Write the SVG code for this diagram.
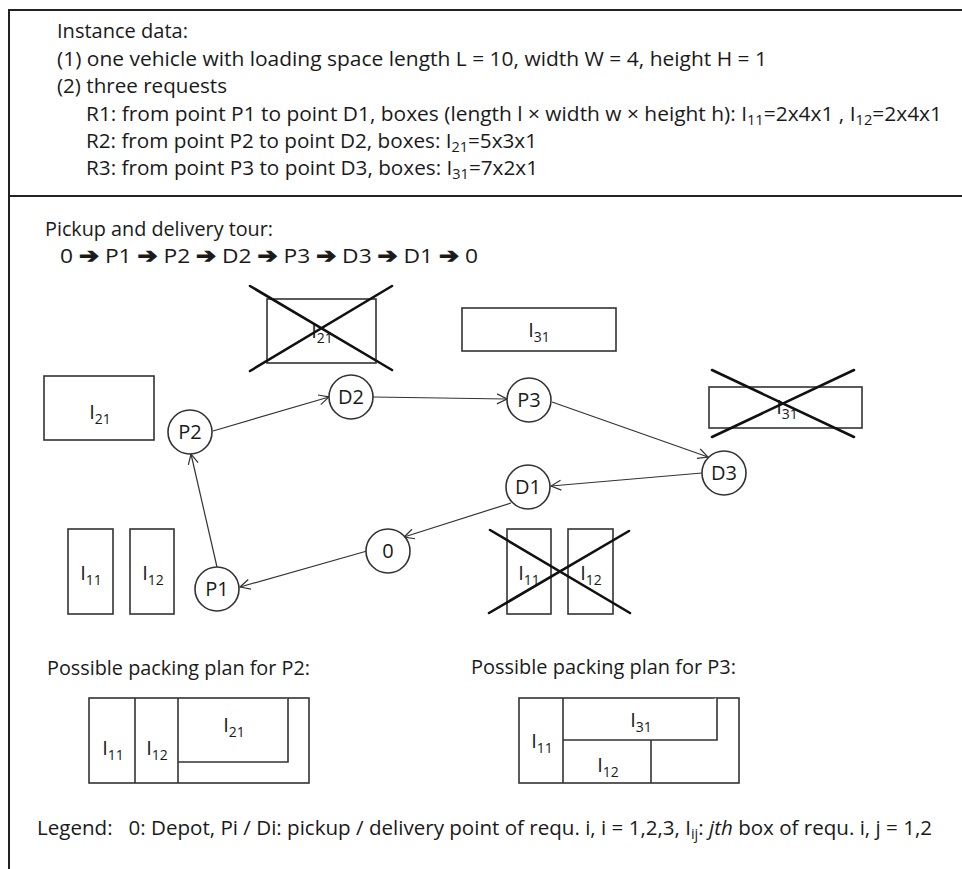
<svg xmlns="http://www.w3.org/2000/svg" width="962" height="869" viewBox="0 0 962 869">
<style>
  text { font-family: "Open Sans", "DejaVu Sans", sans-serif; fill: #1a1a1a; }
  .top { font-size: 20px; }
  .lbl { font-size: 20px; }
  .sub { font-size: 14px; }
  .arw { font-family: "DejaVu Sans", sans-serif; font-size: 21px; stroke: #1a1a1a; stroke-width: 1; }
  .frame { fill: none; stroke: #222; stroke-width: 2; }
  .box { fill: #fff; stroke: #333; stroke-width: 1.6; }
  .cross { stroke: #111; stroke-width: 2.6; stroke-linecap: round; }
  .node { fill: #fff; stroke: #333; stroke-width: 1.6; }
  .edge { stroke: #333; stroke-width: 1.2; fill: none; marker-end: url(#arr); }
</style>
<defs>
  <marker id="arr" markerWidth="12" markerHeight="12" refX="11" refY="6" orient="auto" markerUnits="userSpaceOnUse">
    <path d="M1,1 L11,6 L1,11" fill="none" stroke="#333" stroke-width="1.2"/>
  </marker>
</defs>
<rect width="962" height="869" fill="#fff"/>

<g id="frame">
  <path class="frame" d="M9,869 L9,10 L962,10 M9,196 L962,196"/>
</g>

<g id="instance-data">
  <text class="top" x="57" y="38" textLength="131" lengthAdjust="spacingAndGlyphs">Instance data:</text>
  <text class="top" x="57" y="66" textLength="710" lengthAdjust="spacingAndGlyphs">(1) one vehicle with loading space length L = 10, width W = 4, height H = 1</text>
  <text class="top" x="57" y="93" textLength="170" lengthAdjust="spacingAndGlyphs">(2) three requests</text>
  <text class="top" x="86" y="121" textLength="856" lengthAdjust="spacingAndGlyphs">R1: from point P1 to point D1, boxes (length l × width w × height h): I<tspan class="sub" dy="4">11</tspan><tspan dy="-4">=2x4x1 , I</tspan><tspan class="sub" dy="4">12</tspan><tspan dy="-4">=2x4x1</tspan></text>
  <text class="top" x="86" y="148" textLength="451" lengthAdjust="spacingAndGlyphs">R2: from point P2 to point D2, boxes: I<tspan class="sub" dy="4">21</tspan><tspan dy="-4">=5x3x1</tspan></text>
  <text class="top" x="86" y="175" textLength="452" lengthAdjust="spacingAndGlyphs">R3: from point P3 to point D3, boxes: I<tspan class="sub" dy="4">31</tspan><tspan dy="-4">=7x2x1</tspan></text>
</g>

<g id="tour-title">
  <text class="lbl" x="45" y="236" textLength="228" lengthAdjust="spacingAndGlyphs">Pickup and delivery tour:</text>
  <text class="lbl" x="60" y="263" textLength="418" lengthAdjust="spacingAndGlyphs">0 <tspan class="arw">➔</tspan> P1 <tspan class="arw">➔</tspan> P2 <tspan class="arw">➔</tspan> D2 <tspan class="arw">➔</tspan> P3 <tspan class="arw">➔</tspan> D3 <tspan class="arw">➔</tspan> D1 <tspan class="arw">➔</tspan> 0</text>
</g>

<g id="boxes">
  <g id="box-I21-crossed">
    <rect class="box" x="267" y="299" width="109" height="64"/>
    <text class="lbl" x="322" y="338" text-anchor="middle">I<tspan class="sub" dy="5">21</tspan></text>
    <line class="cross" x1="250" y1="286" x2="392" y2="370"/>
    <line class="cross" x1="250" y1="371" x2="392" y2="286"/>
  </g>
  <g id="box-I31">
    <rect class="box" x="462" y="308" width="154" height="43"/>
    <text class="lbl" x="539" y="337" text-anchor="middle">I<tspan class="sub" dy="5">31</tspan></text>
  </g>
  <g id="box-I21">
    <rect class="box" x="44" y="376" width="110" height="64"/>
    <text class="lbl" x="100" y="419" text-anchor="middle">I<tspan class="sub" dy="5">21</tspan></text>
  </g>
  <g id="box-I31-crossed">
    <rect class="box" x="709" y="387" width="153" height="41"/>
    <text class="lbl" x="787" y="414" text-anchor="middle">I<tspan class="sub" dy="5">31</tspan></text>
    <line class="cross" x1="712" y1="370" x2="854" y2="437"/>
    <line class="cross" x1="712" y1="437" x2="854" y2="370"/>
  </g>
  <g id="box-I11">
    <rect class="box" x="68" y="529" width="45" height="85"/>
    <text class="lbl" x="91" y="580" text-anchor="middle">I<tspan class="sub" dy="5">11</tspan></text>
  </g>
  <g id="box-I12">
    <rect class="box" x="130" y="529" width="44" height="85"/>
    <text class="lbl" x="153" y="580" text-anchor="middle">I<tspan class="sub" dy="5">12</tspan></text>
  </g>
  <g id="box-I11-I12-crossed">
    <rect class="box" x="507" y="529" width="44" height="85"/>
    <rect class="box" x="568" y="529" width="45" height="85"/>
    <text class="lbl" x="529" y="580" text-anchor="middle">I<tspan class="sub" dy="5">11</tspan></text>
    <text class="lbl" x="591" y="580" text-anchor="middle">I<tspan class="sub" dy="5">12</tspan></text>
    <line class="cross" x1="489" y1="613" x2="629" y2="531"/>
    <line class="cross" x1="490" y1="530" x2="630" y2="613"/>
  </g>
</g>

<g id="connectors">
  <line class="edge" x1="367" y1="551" x2="240" y2="587"/>
  <line class="edge" x1="217" y1="567" x2="191" y2="454"/>
  <line class="edge" x1="213" y1="431" x2="329" y2="397"/>
  <line class="edge" x1="373" y1="397" x2="507" y2="399"/>
  <line class="edge" x1="552" y1="402" x2="708" y2="457"/>
  <line class="edge" x1="702" y1="473" x2="551" y2="486"/>
  <line class="edge" x1="511" y1="503" x2="404" y2="537"/>
</g>

<g id="node-0"><circle class="node" cx="388" cy="551" r="22"/><text class="lbl" x="388" y="558" text-anchor="middle">0</text></g>
<g id="node-P1"><circle class="node" cx="217" cy="589" r="22"/><text class="lbl" x="217" y="596" text-anchor="middle">P1</text></g>
<g id="node-P2"><circle class="node" cx="190" cy="432" r="22"/><text class="lbl" x="190" y="439" text-anchor="middle">P2</text></g>
<g id="node-D2"><circle class="node" cx="351" cy="397" r="22"/><text class="lbl" x="351" y="404" text-anchor="middle">D2</text></g>
<g id="node-P3"><circle class="node" cx="529" cy="400" r="22"/><text class="lbl" x="529" y="407" text-anchor="middle">P3</text></g>
<g id="node-D3"><circle class="node" cx="724" cy="473" r="22"/><text class="lbl" x="724" y="480" text-anchor="middle">D3</text></g>
<g id="node-D1"><circle class="node" cx="528" cy="487" r="22"/><text class="lbl" x="528" y="494" text-anchor="middle">D1</text></g>

<g id="plan-P2">
  <text class="lbl" x="47" y="675" textLength="263" lengthAdjust="spacingAndGlyphs">Possible packing plan for P2:</text>
  <rect class="box" x="89" y="698" width="220" height="85"/>
  <line class="box" x1="135" y1="698" x2="135" y2="783"/>
  <line class="box" x1="178" y1="698" x2="178" y2="783"/>
  <path class="box" d="M178,762 L288,762 L288,698" fill="none"/>
  <text class="lbl" x="113" y="755" text-anchor="middle">I<tspan class="sub" dy="5">11</tspan></text>
  <text class="lbl" x="157" y="755" text-anchor="middle">I<tspan class="sub" dy="5">12</tspan></text>
  <text class="lbl" x="234" y="732" text-anchor="middle">I<tspan class="sub" dy="5">21</tspan></text>
</g>

<g id="plan-P3">
  <text class="lbl" x="471" y="674" textLength="265" lengthAdjust="spacingAndGlyphs">Possible packing plan for P3:</text>
  <rect class="box" x="519" y="698" width="220" height="85"/>
  <line class="box" x1="563" y1="698" x2="563" y2="783"/>
  <path class="box" d="M563,740 L717,740 L717,698" fill="none"/>
  <line class="box" x1="651" y1="740" x2="651" y2="783"/>
  <text class="lbl" x="542" y="748" text-anchor="middle">I<tspan class="sub" dy="5">11</tspan></text>
  <text class="lbl" x="641" y="727" text-anchor="middle">I<tspan class="sub" dy="5">31</tspan></text>
  <text class="lbl" x="608" y="772" text-anchor="middle">I<tspan class="sub" dy="5">12</tspan></text>
</g>

<g id="legend">
  <text class="lbl" x="37" y="835" textLength="895" lengthAdjust="spacingAndGlyphs" xml:space="preserve">Legend:   0: Depot, Pi / Di: pickup / delivery point of requ. i, i = 1,2,3, I<tspan class="sub" dy="4">ij</tspan><tspan dy="-4">: </tspan><tspan font-style="italic">jth</tspan> box of requ. i, j = 1,2</text>
</g>
</svg>
